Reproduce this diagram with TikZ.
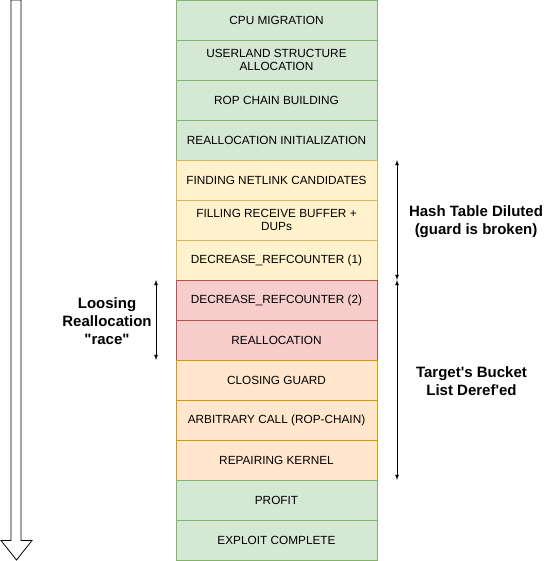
\documentclass[tikz,border=0pt]{standalone}
\usepackage{fontspec}
\setmainfont{Liberation Sans}[Ligatures=TeXOff]
\usepackage{tikz}
\pgfdeclarelayer{nodelayer}
\pgfdeclarelayer{edgelayer}
\pgfsetlayers{edgelayer,nodelayer,main}
\definecolor{greenfill}{HTML}{D5E8D4}
\definecolor{greenline}{HTML}{82B366}
\definecolor{yellowfill}{HTML}{FFF2CC}
\definecolor{yellowline}{HTML}{D6B656}
\definecolor{redfill}{HTML}{F8CECC}
\definecolor{redline}{HTML}{B85450}
\definecolor{orangefill}{HTML}{FFE6CC}
\definecolor{orangeline}{HTML}{D79B00}
\tikzstyle{stage}=[shape=rectangle, minimum width=201pt, minimum height=40pt, inner sep=0pt, align=center, font=\fontsize{11.8}{13.5}\selectfont]
\tikzstyle{green stage}=[stage, fill=greenfill, draw=greenline]
\tikzstyle{yellow stage}=[stage, fill=yellowfill, draw=yellowline]
\tikzstyle{red stage}=[stage, fill=redfill, draw=redline]
\tikzstyle{orange stage}=[stage, fill=orangefill, draw=orangeline]
\tikzstyle{note}=[align=center, font=\bfseries\fontsize{15}{18}\selectfont]
\tikzstyle{span edge}=[<->, >=latex, thick]

\begin{document}
\begin{tikzpicture}[x=1pt, y=-1pt]
	\useasboundingbox (0, 0) rectangle (547, 561);
	\begin{pgfonlayer}{nodelayer}
		\node [style=green stage] (0) at (276.5, 20) {CPU MIGRATION};
		\node [style=green stage] (1) at (276.5, 60) {USERLAND STRUCTURE\\ALLOCATION};
		\node [style=green stage] (2) at (276.5, 100) {ROP CHAIN BUILDING};
		\node [style=green stage] (3) at (276.5, 140) {REALLOCATION INITIALIZATION};
		\node [style=yellow stage] (4) at (276.5, 180) {FINDING NETLINK CANDIDATES};
		\node [style=yellow stage] (5) at (276.5, 220) {FILLING RECEIVE BUFFER +\\DUPs};
		\node [style=yellow stage] (6) at (276.5, 260) {DECREASE\_REFCOUNTER (1)};
		\node [style=red stage] (7) at (276.5, 300) {DECREASE\_REFCOUNTER (2)};
		\node [style=red stage] (8) at (276.5, 340) {REALLOCATION};
		\node [style=orange stage] (9) at (276.5, 380) {CLOSING GUARD};
		\node [style=orange stage] (10) at (276.5, 420) {ARBITRARY CALL (ROP-CHAIN)};
		\node [style=orange stage] (11) at (276.5, 460) {REPAIRING KERNEL};
		\node [style=green stage] (12) at (276.5, 500) {PROFIT};
		\node [style=green stage] (13) at (276.5, 540) {EXPLOIT COMPLETE};
		\node [style=note] (14) at (476, 221.5) {Hash Table Diluted\\(guard is broken)};
		\node [style=note] (15) at (471.5, 381.5) {Target's Bucket\\List Deref'ed};
		\node [style=note] (16) at (107, 321.5) {Loosing\\Reallocation\\"race"};
		\coordinate (17) at (397, 160);
		\coordinate (18) at (397, 280);
		\coordinate (19) at (397, 480);
		\coordinate (20) at (156, 280);
		\coordinate (21) at (156, 360);
	\end{pgfonlayer}
	\begin{pgfonlayer}{edgelayer}
		\draw [style=span edge] (17) to (18);
		\draw [style=span edge] (18) to (19);
		\draw [style=span edge] (20) to (21);
	\end{pgfonlayer}
	% time flows downwards
	\draw [thick, fill=white] (11, 0) -- (21, 0) -- (21, 540.5) -- (32, 540.5) -- (16.5, 560) -- (1, 540.5) -- (11, 540.5) -- cycle;
\end{tikzpicture}
\end{document}
